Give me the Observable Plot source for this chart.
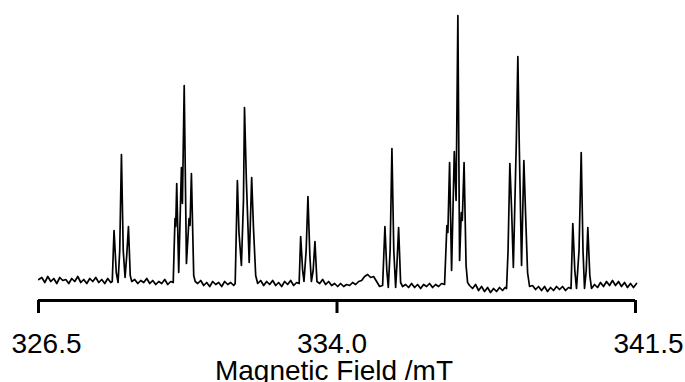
<!DOCTYPE html>
<html><head><meta charset="utf-8">
<script src="https://cdn.jsdelivr.net/npm/d3@7"></script>
<script src="https://cdn.jsdelivr.net/npm/@observablehq/plot@0.6"></script>
<style>body{margin:0;background:#fff} svg{display:block}</style>
</head><body><div id="chart"></div>
<script>
// Magnetic field (mT) of each sampled point of the EPR trace
const field = [
  326.507,326.583,326.658,326.733,326.809,326.884,326.959,327.035,327.110,327.185,327.261,327.336,327.411,327.487,327.562,327.637,327.713,327.788,327.863,327.939,328.014,328.089,328.165,328.240,328.315,
  328.353,328.398,328.454,328.499,328.541,328.584,328.629,328.675,328.717,328.760,328.805,328.843,
  328.918,328.994,329.069,329.144,329.220,329.295,329.370,329.446,329.521,329.596,329.672,329.747,329.822,
  329.885,329.910,329.930,329.948,329.973,330.023,330.091,330.116,330.161,330.217,330.282,330.307,330.342,330.400,330.438,
  330.500,330.576,330.651,330.726,330.802,330.877,330.952,331.028,331.103,331.178,331.254,331.329,331.404,
  331.442,331.497,331.537,331.598,331.650,331.676,331.723,331.794,331.856,331.902,331.957,332.007,
  332.082,332.158,332.233,332.308,332.384,332.459,332.534,332.610,332.685,332.760,332.836,332.911,332.986,
  333.049,333.087,333.137,333.170,333.225,333.270,333.318,333.356,333.401,333.446,333.496,
  333.564,333.639,333.715,333.790,333.865,333.941,334.016,334.091,334.167,334.242,334.317,334.393,334.468,334.544,334.619,334.694,334.770,334.845,334.920,334.996,335.071,
  335.146,335.204,335.252,335.289,335.335,335.380,335.427,335.473,335.505,335.548,335.598,335.648,
  335.724,335.799,335.874,335.950,336.025,336.101,336.176,336.251,336.327,336.402,336.477,336.553,336.628,
  336.703,336.761,336.786,336.829,336.879,336.947,336.992,337.037,337.080,337.123,337.148,337.193,337.243,337.281,
  337.331,337.406,337.482,337.557,337.632,337.708,337.783,337.858,337.934,338.009,338.084,338.160,338.223,
  338.260,338.298,338.343,338.386,338.431,338.506,338.544,338.582,338.637,338.695,338.737,338.788,338.838,
  338.913,338.989,339.064,339.139,339.215,339.290,339.365,339.441,339.516,339.591,339.667,339.742,339.817,
  339.880,339.925,339.975,340.018,340.081,340.136,340.181,340.219,340.262,340.302,340.352,340.395,
  340.470,340.546,340.621,340.696,340.772,340.847,340.922,340.998,341.073,341.148,341.224,341.299,341.374,341.450,341.525
];
// Signal intensity (arbitrary units) at each field value
const signal = [
  11,13,8,14,9,12,7,13,10,11,7,12,9,14,8,11,7,12,9,13,8,11,7,12,8,
  9,60,18,8,40,136,40,13,35,64,15,9,
  11,7,10,8,12,7,10,6,9,7,11,6,9,
  8,45,72,64,107,18,123,87,205,27,72,65,117,15,9,
  7,10,5,8,4,9,6,8,4,9,6,8,5,
  7,110,58,25,90,183,110,28,113,62,15,7,
  10,5,9,6,10,5,8,4,9,6,10,5,8,
  7,54,20,9,40,94,35,9,20,49,9,
  7,11,6,9,5,7,4,7,4,6,5,8,6,9,10,14,16,13,14,9,4,
  5,64,20,3,40,142,40,3,25,63,8,4,
  6,3,7,3,6,2,6,4,7,3,6,4,7,
  6,65,58,128,20,139,90,275,30,78,70,128,25,8,
  5,2,6,0,4,-1,3,-2,2,-1,3,0,3,
  2,40,127,82,23,150,234,140,25,130,78,18,4,
  5,1,4,0,4,-1,3,0,4,1,4,0,3,
  2,67,20,2,40,138,40,2,20,63,15,2,
  6,3,8,4,9,5,10,5,9,4,8,3,7,3,7
];
const tickValues = [326.5, 334.0, 341.5];
const tickLabels = ["326.5", "334.0", "341.5"];
const xTitle = "Magnetic Field /mT";

const data = field.map((f, i) => ({field: f, signal: signal[i]}));

const chart = Plot.plot({
  width: 685,
  height: 382,
  marginLeft: 38,
  marginRight: 50,
  marginTop: 0,
  marginBottom: 82,
  x: {domain: [326.5, 341.5], axis: null},
  y: {domain: [-10, 290], axis: null},
  style: {fontFamily: "'Liberation Sans', Arial, sans-serif", background: "white", color: "black", overflow: "visible"},
  marks: [
    Plot.line(data, {x: "field", y: "signal", stroke: "black", strokeWidth: 1.7}),
    Plot.ruleY([-10], {stroke: "black", strokeWidth: 3}),
    Plot.axisX(tickValues, {tickSize: 13, strokeWidth: 3, tickFormat: () => "", label: null}),
    Plot.axisX([tickValues[0]], {tickSize: 0, tickPadding: 33, dx: 8, fontSize: 28, label: null, tickFormat: () => tickLabels[0]}),
    Plot.axisX([tickValues[1]], {tickSize: 0, tickPadding: 33, dx: -5, fontSize: 28, label: null, tickFormat: () => tickLabels[1]}),
    Plot.axisX([tickValues[2]], {tickSize: 0, tickPadding: 33, dx: 13, fontSize: 28, label: null, tickFormat: () => tickLabels[2]}),
    Plot.text([xTitle], {text: d => d, frameAnchor: "bottom", lineAnchor: "top", dy: 60, dx: -3, fontSize: 28, fill: "black"})
  ]
});
document.getElementById("chart").appendChild(chart);
</script>
</body></html>
